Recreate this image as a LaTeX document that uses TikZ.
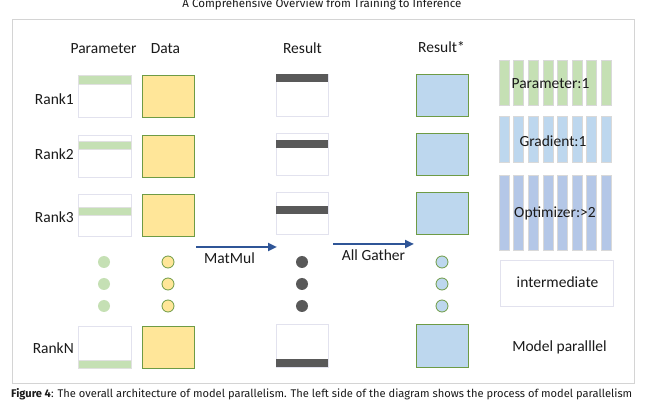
\documentclass[tikz,border=0pt]{standalone}
\usepackage{fontspec}
\setmainfont{Carlito}
\newfontfamily\capfont{Fira Sans}
\usetikzlibrary{arrows.meta}
\definecolor{pgreen}{HTML}{C5E0B4}
\definecolor{dyellow}{HTML}{FFE699}
\definecolor{rblue}{HTML}{BDD7EE}
\definecolor{oblue}{HTML}{B4C7E7}
\definecolor{edgegreen}{HTML}{6E9B45}
\definecolor{darkbar}{HTML}{595959}
\definecolor{arrowblue}{HTML}{2F5597}
\definecolor{lightedge}{HTML}{E2E2EE}
\definecolor{framegray}{HTML}{D4D4D4}
\definecolor{stripeedge}{HTML}{D9D9D9}
\definecolor{txt}{HTML}{1A1A1A}
\begin{document}
\begin{tikzpicture}[x=1pt,y=-1pt,
  lbl/.style={font=\fontsize{15.5}{18}\selectfont, text=txt, inner sep=0pt, anchor=base},
  wbox/.style={draw=lightedge, line width=0.8pt, fill=white, minimum width=52pt, minimum height=42pt, anchor=north west, inner sep=0pt},
  dbox/.style={wbox, draw=edgegreen, fill=dyellow},
  rsbox/.style={wbox, draw=edgegreen, fill=rblue},
  gbar/.style={fill=pgreen, draw=black!12, line width=0.4pt, minimum width=52pt, minimum height=8.5pt, anchor=north west, inner sep=0pt},
  kbar/.style={fill=darkbar, minimum width=52pt, minimum height=8pt, anchor=north west, inner sep=0pt},
  stripe/.style={draw=stripeedge, line width=0.6pt},
  pdot/.style={circle, fill=pgreen, minimum size=12pt, inner sep=0pt},
  ddot/.style={circle, fill=dyellow, draw=edgegreen, line width=0.8pt, minimum size=12pt, inner sep=0pt},
  kdot/.style={circle, fill=darkbar, minimum size=12pt, inner sep=0pt},
  rdot/.style={circle, fill=rblue, draw=edgegreen, line width=0.8pt, minimum size=12pt, inner sep=0pt},
  flow/.style={draw=arrowblue, line width=2.6pt, -{Triangle[length=9pt,width=8pt]}},
]
\useasboundingbox (0,0) rectangle (649,401);
\fill[white] (0,0) rectangle (649,401);
% header and caption (page text)
\node[anchor=base, inner sep=0pt, text=txt] (header) at (322,7.5) {\resizebox{279pt}{!}{\capfont A Comprehensive Overview from Training to Inference}};
\node[anchor=base west, inner sep=0pt, text=txt] (caption) at (11,397.5) {\resizebox{621pt}{!}{\capfont\textbf{Figure 4}: The overall architecture of model parallelism. The left side of the diagram shows the process of model parallelism}};
% frame
\node[draw=framegray, line width=0.9pt, minimum width=622.5pt, minimum height=364pt, anchor=north west, inner sep=0pt] (frame) at (11.5,19) {};
% column headers
\node[lbl] (hpar) at (103.5,54) {Parameter};
\node[lbl] (hdat) at (165.5,54) {Data};
\node[lbl] (hres) at (302.5,54) {Result};
\node[lbl] (hress) at (441.5,52.7) {Result*};
% rows
\foreach \i/\pt/\rt/\off/\roff/\lb in {1/75.5/74/0/0.3/105, 2/135/133.5/6/6/160, 3/194/192.5/12.7/13.5/222.7, N/326/324.5/33.5/34/354}{
  \node[lbl, anchor=base east] (rank\i) at (74,\lb) {Rank\i};
  \node[wbox, minimum width=53pt] (p\i) at (78,\pt) {};
  \node[gbar, minimum width=53pt] (pb\i) at (78,\pt+\off) {};
  \node[dbox] (d\i) at (142,\pt) {};
  \node[wbox] (r\i) at (276,\rt) {};
  \node[kbar] (rb\i) at (276,\rt+\roff) {};
  \node[rsbox] (s\i) at (416,\rt) {};
}
% dots
\foreach \j/\y in {1/262, 2/284, 3/306}{
  \node[pdot] (pd\j) at (104,\y) {};
  \node[ddot] (dd\j) at (168,\y) {};
  \node[kdot] (kd\j) at (302,\y) {};
  \node[rdot] (sd\j) at (442,\y) {};
}
% arrows
\coordinate (mmA) at (196,247);
\coordinate (mmB) at (277,247);
\coordinate (agA) at (333,244);
\coordinate (agB) at (414,244);
\draw[flow] (mmA) -- (mmB);
\draw[flow] (agA) -- (agB);
\node[lbl] (lmm) at (229.5,264) {MatMul};
\node[lbl] (lag) at (373.5,260.7) {All Gather};
% memory stripes
\foreach \k in {0,...,7}{
  \filldraw[stripe, fill=pgreen] (499+\k*14.6,60) rectangle ++(10,45);
  \filldraw[stripe, fill=rblue] (499+\k*14.6,116.7) rectangle ++(10,45.3);
  \filldraw[stripe, fill=oblue] (499+\k*14.6,175) rectangle ++(10,75.7);
}
\node[lbl] (mpar) at (550.5,88.3) {Parameter:1};
\node[lbl] (mgrad) at (553,146.5) {Gradient:1};
\node[lbl] (mopt) at (555,218) {Optimizer:>2};
\node[draw=lightedge, line width=0.8pt, minimum width=113pt, minimum height=46pt, anchor=north west, inner sep=0pt] (inter) at (500,260) {};
\node[lbl] (linter) at (557.5,288) {intermediate};
\node[lbl] (lmodel) at (559.5,352) {Model paralllel};
\end{tikzpicture}
\end{document}
